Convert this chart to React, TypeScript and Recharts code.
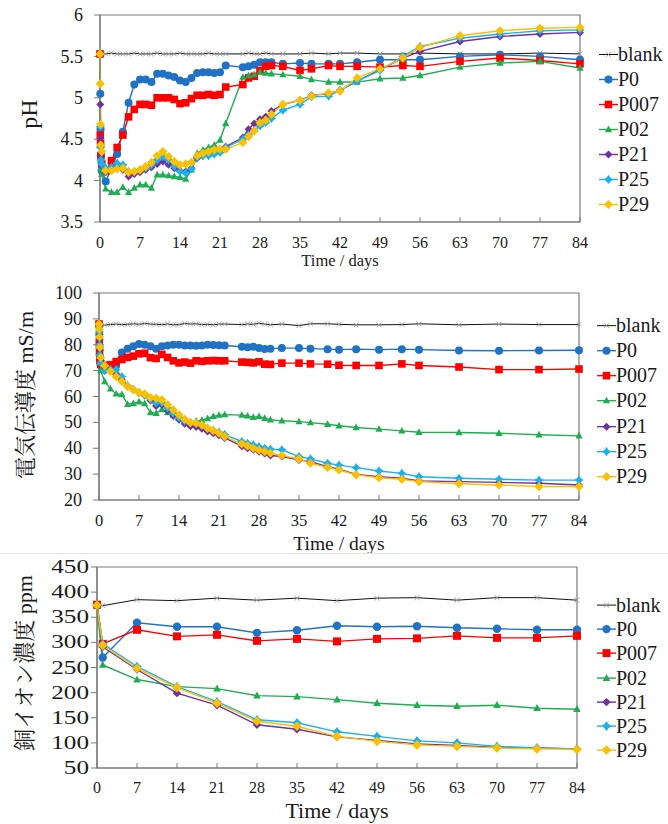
import React from "react";
import { LineChart, Line, XAxis, YAxis, ReferenceArea, Legend } from "recharts";

const AXIS = "#7a7a7a";
const TEXT = "#1a1a1a";
const FONT = '"Liberation Serif", "Tinos", "Times New Roman", "DejaVu Serif", "Noto Serif CJK JP", "Noto Sans CJK JP", serif';

const DAY_TICKS = [0, 7, 14, 21, 28, 35, 42, 49, 56, 63, 70, 77, 84];

// sampling days for pH / conductivity (several readings on day 0)
const days = [
  0, 0.05, 0.1, 0.15, 0.3,
  1, 2, 3, 4, 5, 6, 7, 8, 9, 10, 11, 12, 13, 14, 15, 16, 17, 18, 19, 20, 21, 22,
  25, 26, 27, 28, 29, 30,
  32, 35, 37, 40, 42, 45, 49, 53, 56, 63, 70, 77, 84,
];

const phBlank = [
  5.53, 5.53, 5.53, 5.53, 5.53,
  5.53, 5.54, 5.53, 5.53, 5.53, 5.54, 5.53, 5.53, 5.53, 5.54, 5.53, 5.53, 5.53, 5.54, 5.53, 5.53, 5.53, 5.53, 5.54, 5.53, 5.53, 5.53,
  5.53, 5.54, 5.53, 5.53, 5.54, 5.53,
  5.53, 5.53, 5.54, 5.53, 5.54, 5.54, 5.53, 5.53, 5.54, 5.53, 5.53, 5.54, 5.53,
];
const phP0 = [
  5.53, 5.05, 4.62, 4.3, 4.12,
  3.99, 4.15, 4.32, 4.59, 4.94, 5.16, 5.22, 5.22, 5.19, 5.29, 5.29, 5.27, 5.25, 5.21, 5.19, 5.24, 5.3, 5.31, 5.31, 5.3, 5.31, 5.39,
  5.37, 5.38, 5.4, 5.43, 5.43, 5.43,
  5.41, 5.42, 5.41, 5.41, 5.41, 5.43, 5.46, 5.46, 5.46, 5.5, 5.52, 5.5, 5.46,
];
const phP007 = [
  5.53, 4.55, 4.45, 4.3, 4.2,
  4.12, 4.24, 4.4, 4.55, 4.77, 4.86, 4.92, 4.92, 4.91, 5.0, 5.0, 5.0, 4.98, 4.93, 4.94, 4.99, 5.03, 5.03, 5.04, 5.03, 5.04, 5.13,
  5.16, 5.24, 5.26, 5.33, 5.38, 5.39,
  5.38, 5.33, 5.35, 5.39, 5.38, 5.38, 5.37, 5.39, 5.38, 5.44, 5.48, 5.45, 5.41,
];
const phP02 = [
  5.53, 4.45, 4.25, 4.15, 4.08,
  3.9, 3.86, 3.86, 3.92, 3.86, 3.91, 3.95, 3.95, 3.91, 4.07, 4.07, 4.06, 4.05, 4.04, 4.02, 4.13, 4.33, 4.37, 4.4, 4.43, 4.49, 4.69,
  5.25, 5.27, 5.28, 5.31, 5.3, 5.29,
  5.28, 5.26, 5.22, 5.19, 5.19, 5.19, 5.23, 5.24, 5.27, 5.37, 5.42, 5.44, 5.36,
];
const phP21 = [
  5.53, 4.92, 4.51, 4.3, 4.18,
  4.1, 4.14, 4.16, 4.13, 4.05, 4.08, 4.1, 4.13, 4.16, 4.2, 4.23, 4.19, 4.15, 4.12, 4.11, 4.15, 4.27, 4.3, 4.33, 4.35, 4.37, 4.41,
  4.52, 4.62, 4.69, 4.74, 4.77, 4.84,
  4.92, 4.97, 5.03, 5.05, 5.09, 5.2, 5.34, 5.48, 5.56, 5.68, 5.74, 5.77, 5.79,
];
const phP25 = [
  5.53, 4.65, 4.4, 4.25, 4.2,
  4.15, 4.16, 4.21, 4.19, 4.11, 4.11, 4.13, 4.15, 4.19, 4.25, 4.29, 4.25, 4.17, 4.11, 4.09, 4.14, 4.28, 4.3, 4.3, 4.32, 4.34, 4.4,
  4.5, 4.55, 4.6, 4.66, 4.7, 4.75,
  4.85, 4.92, 5.01, 5.02, 5.09, 5.2, 5.33, 5.5, 5.62, 5.72, 5.77, 5.81, 5.82,
];
const phP29 = [
  5.53, 5.17, 4.68, 4.43, 4.35,
  4.12, 4.12, 4.14, 4.15, 4.1, 4.11, 4.13, 4.17, 4.22, 4.3, 4.35, 4.29, 4.23, 4.19, 4.2, 4.22, 4.3, 4.33, 4.35, 4.37, 4.38, 4.38,
  4.46, 4.53, 4.6, 4.7, 4.73, 4.8,
  4.92, 4.97, 5.02, 5.06, 5.08, 5.24, 5.35, 5.48, 5.61, 5.75, 5.81, 5.84, 5.85,
];

const ecBlank = [
  88.2, 88.0, 88.0, 87.9, 87.8,
  87.6, 87.8, 88.0, 87.8, 87.9, 88.1, 87.9, 88.2, 88.0, 87.9, 87.8, 88.0, 87.7, 87.8, 88.2, 88.0, 88.1, 87.8, 87.9, 87.7, 88.0, 88.0,
  87.8, 88.0, 87.9, 88.3, 88.0, 87.7,
  88.0, 87.4, 88.1, 88.1, 87.9, 87.7, 87.7, 87.8, 88.1, 87.7, 88.0, 87.8, 87.8,
];
const ecP0 = [
  88.0, 84.0, 79.0, 75.0, 72.0,
  70.3, 71.0, 72.0, 77.0, 78.5, 79.4, 80.3, 80.0, 79.4, 78.5, 79.4, 79.7, 80.0, 80.0, 79.7, 79.7, 79.6, 79.7, 80.0, 79.9, 79.8, 79.7,
  79.2, 79.0, 79.2, 78.7, 78.4, 78.5,
  78.7, 78.7, 78.5, 78.3, 78.1, 78.3, 78.1, 78.3, 78.1, 77.8, 77.7, 77.8, 77.9,
];
const ecP007 = [
  88.0, 81.0, 77.0, 74.0, 72.5,
  72.0, 72.3, 73.5, 74.3, 75.1, 75.6, 76.5, 76.7, 75.0, 74.7, 76.3, 75.1, 73.8, 73.0, 73.3, 72.9, 73.8, 73.6, 73.8, 73.9, 73.8, 73.8,
  73.3, 73.2, 73.0, 73.4, 72.5, 72.4,
  72.9, 72.9, 72.6, 72.5, 72.1, 72.0, 72.0, 72.6, 72.0, 71.4, 70.4, 70.4, 70.6,
];
const ecP02 = [
  88.0, 83.0, 77.0, 73.0, 70.0,
  65.8, 63.0, 61.0, 60.8, 57.0, 57.3, 58.0, 57.3, 53.8, 53.5, 55.0, 53.8, 52.8, 51.8, 50.8, 50.3, 50.5, 50.8, 51.5, 52.3, 52.8, 53.0,
  52.8, 52.5, 52.0, 52.3, 51.6, 51.0,
  50.6, 50.3, 49.9, 49.3, 48.7, 48.0, 47.4, 46.7, 46.2, 46.1, 45.8, 45.2, 44.8,
];
const ecP21 = [
  88.0, 86.0, 82.0, 78.0, 74.0,
  72.0, 70.5, 68.5, 66.5, 64.0, 62.6, 61.5, 60.5, 58.5, 56.3, 56.8, 54.5, 52.5, 51.0, 49.5, 48.5, 48.2, 47.5, 46.5, 45.8, 45.0, 44.0,
  40.8, 40.0, 39.4, 38.6, 38.0, 37.2,
  36.8, 35.5, 34.8, 32.9, 31.9, 29.9, 29.0, 28.4, 27.4, 27.1, 26.8, 26.5, 25.8,
];
const ecP25 = [
  87.0, 85.0, 80.0, 76.0, 73.0,
  70.0, 70.5, 70.3, 67.7, 64.2, 62.8, 61.5, 60.5, 59.0, 57.5, 57.6, 55.5, 53.5, 51.8, 50.5, 49.8, 49.5, 48.8, 47.8, 47.0, 46.2, 45.3,
  42.6, 41.9, 41.3, 40.6, 40.0, 39.6,
  39.4, 36.8, 35.9, 34.2, 33.5, 32.5, 31.2, 30.3, 29.0, 28.4, 28.0, 27.7, 27.7,
];
const ecP29 = [
  88.0, 86.0, 83.0, 79.0, 75.0,
  71.9, 69.7, 67.7, 65.8, 63.9, 62.6, 61.5, 61.0, 59.6, 59.3, 58.7, 56.8, 54.8, 52.9, 51.2, 49.9, 49.7, 49.0, 47.7, 46.8, 45.8, 44.5,
  41.7, 40.9, 40.0, 39.3, 38.7, 38.1,
  37.2, 35.9, 34.2, 32.6, 31.6, 29.7, 28.6, 28.0, 27.1, 26.3, 25.8, 25.2, 25.2,
];

// copper ion, weekly
const cuDays = [0, 1, 7, 14, 21, 28, 35, 42, 49, 56, 63, 70, 77, 84];
const cuBlank = [375, 373, 385, 383, 388, 384, 388, 383, 388, 389, 384, 389, 389, 384];
const cuP0 = [374, 270, 339, 331, 331, 319, 324, 333, 331, 332, 329, 327, 325, 325];
const cuP007 = [375, 297, 325, 312, 315, 303, 307, 302, 307, 308, 313, 309, 309, 313];
const cuP02 = [374, 255, 226, 212, 208, 194, 192, 186, 179, 175, 173, 175, 169, 167];
const cuP21 = [374, 291, 246, 199, 175, 136, 127, 112, 105, 98, 95, 91, 90, 88];
const cuP25 = [374, 297, 252, 212, 182, 146, 140, 122, 113, 104, 100, 93, 90, 88];
const cuP29 = [374, 294, 248, 210, 179, 143, 133, 113, 103, 96, 93, 90, 88, 87];

type Shape = "x" | "circle" | "square" | "triangle" | "diamond" | "star";
type Series = { key: string; color: string; shape: Shape; size: number; width: number };

const SERIES: Series[] = [
  { key: "blank", color: "#111111", shape: "x", size: 2.4, width: 1 },
  { key: "P0", color: "#1f72c4", shape: "circle", size: 4, width: 1.4 },
  { key: "P007", color: "#ff0000", shape: "square", size: 3.8, width: 1.4 },
  { key: "P02", color: "#1fad52", shape: "triangle", size: 3.6, width: 1.4 },
  { key: "P21", color: "#7030a0", shape: "diamond", size: 4, width: 1.4 },
  { key: "P25", color: "#19b2ef", shape: "star", size: 4.6, width: 1.4 },
  { key: "P29", color: "#fdc000", shape: "diamond", size: 4.6, width: 1.4 },
];

const buildRows = (t: number[], cols: number[][]) =>
  t.map((d, i) => {
    const row: Record<string, number> = { t: d };
    SERIES.forEach((s, j) => (row[s.key] = cols[j][i]));
    return row;
  });

const phRows = buildRows(days, [phBlank, phP0, phP007, phP02, phP21, phP25, phP29]);
const ecRows = buildRows(days, [ecBlank, ecP0, ecP007, ecP02, ecP21, ecP25, ecP29]);
const cuRows = buildRows(cuDays, [cuBlank, cuP0, cuP007, cuP02, cuP21, cuP25, cuP29]);

function Marker({ shape, color, cx, cy, s }: { shape: Shape; color: string; cx: number; cy: number; s: number }) {
  switch (shape) {
    case "x":
      return (
        <path
          d={`M${cx - s},${cy - s}L${cx + s},${cy + s}M${cx - s},${cy + s}L${cx + s},${cy - s}`}
          stroke="#9c9c9c"
          strokeWidth={0.9}
        />
      );
    case "circle":
      return <circle cx={cx} cy={cy} r={s} fill={color} />;
    case "square":
      return <rect x={cx - s} y={cy - s} width={2 * s} height={2 * s} fill={color} />;
    case "triangle":
      return <polygon points={`${cx},${cy - s * 1.1} ${cx + s},${cy + s * 0.75} ${cx - s},${cy + s * 0.75}`} fill={color} />;
    case "diamond":
      return <polygon points={`${cx},${cy - s} ${cx + s},${cy} ${cx},${cy + s} ${cx - s},${cy}`} fill={color} />;
    case "star": {
      const k = s * 0.42;
      return (
        <polygon
          points={`${cx},${cy - s} ${cx + k},${cy - k} ${cx + s},${cy} ${cx + k},${cy + k} ${cx},${cy + s} ${cx - k},${cy + k} ${cx - s},${cy} ${cx - k},${cy - k}`}
          fill={color}
        />
      );
    }
  }
  return null;
}

const dotFor = (s: Series, k: number) => (p: any) => {
  if (p.cx == null || p.cy == null) return <g key={`${s.key}-${p.index}`} />;
  return <Marker key={`${s.key}-${p.index}`} shape={s.shape} color={s.color} cx={p.cx} cy={p.cy} s={s.size * k} />;
};

// own prop names, recharts clones the label element with its own x / y
function AxisTitle({ at, caption, size, rotate }: { at: [number, number]; caption: string; size: number; rotate?: boolean }) {
  const [ax, ay] = at;
  return (
    <text
      x={ax}
      y={ay}
      dy="0.35em"
      textAnchor="middle"
      fontSize={size}
      fontFamily={FONT}
      fill={TEXT}
      transform={rotate ? `rotate(-90 ${ax} ${ay})` : undefined}
    >
      {caption}
    </text>
  );
}

type PanelProps = {
  top: number;
  height: number;
  plot: { left: number; right: number; top: number; bottom: number };
  data: Record<string, number>[];
  yDomain: [number, number];
  yTicks: number[];
  yTickFont: number;
  yTickRight: number;
  yTickScale: number;
  xTickFont: number;
  xTickGap: number;
  yTitle: string;
  yTitleAt: [number, number];
  yTitleSize: number;
  xTitleAt: [number, number];
  xTitleSize: number;
  legendTop: number;
  legendLeft: number;
  legendStep: number;
  legendFont: number;
  mk: number;
};

function Panel(p: PanelProps) {
  const { plot } = p;
  return (
    <div style={{ position: "absolute", left: 0, top: p.top, width: 668, height: p.height }}>
      <LineChart
        width={668}
        height={p.height}
        data={p.data}
        margin={{ top: plot.top, right: 668 - plot.right, bottom: 0, left: 0 }}
      >
        <XAxis
          type="number"
          dataKey="t"
          domain={[0, 84]}
          ticks={DAY_TICKS}
          interval={0}
          height={p.height - plot.bottom}
          axisLine={{ stroke: AXIS, strokeWidth: 1.2 }}
          tickLine={false}
          tick={(t: any) => (
            <g>
              <line x1={t.x} x2={t.x} y1={plot.bottom} y2={plot.bottom - 5} stroke={AXIS} />
              <text
                x={t.x}
                y={plot.bottom + p.xTickGap}
                dy="0.34em"
                textAnchor="middle"
                fontSize={p.xTickFont}
                fontFamily={FONT}
                fill={TEXT}
              >
                {t.payload.value}
              </text>
            </g>
          )}
          label={<AxisTitle at={p.xTitleAt} caption="Time / days" size={p.xTitleSize} />}
        />
        <YAxis
          type="number"
          domain={p.yDomain}
          ticks={p.yTicks}
          interval={0}
          width={plot.left}
          axisLine={{ stroke: AXIS, strokeWidth: 1.2 }}
          tickLine={{ stroke: AXIS }}
          tickSize={6}
          tick={(t: any) => (
            <text
              x={p.yTickRight}
              y={t.y}
              dy="0.34em"
              textAnchor="end"
              fontSize={p.yTickFont}
              fontFamily={FONT}
              fill={TEXT}
              transform={
                p.yTickScale !== 1
                  ? `translate(${p.yTickRight} 0) scale(${p.yTickScale} 1) translate(${-p.yTickRight} 0)`
                  : undefined
              }
            >
              {t.payload.value}
            </text>
          )}
          label={<AxisTitle at={p.yTitleAt} caption={p.yTitle} size={p.yTitleSize} rotate />}
        />
        <ReferenceArea
          x1={0}
          x2={84}
          y1={p.yDomain[0]}
          y2={p.yDomain[1]}
          fill="none"
          stroke={AXIS}
          strokeWidth={1.2}
          fillOpacity={0}
        />
        {SERIES.map((s) => (
          <Line
            key={s.key}
            type="linear"
            dataKey={s.key}
            stroke={s.color}
            strokeWidth={s.width}
            dot={dotFor(s, p.mk)}
            activeDot={false}
            isAnimationActive={false}
          />
        ))}
        <Legend
          layout="horizontal"
          align="center"
          verticalAlign="middle"
          wrapperStyle={{ left: p.legendLeft, top: p.legendTop, width: 70 }}
          content={() => (
            <div style={{ display: "flex", flexDirection: "column", fontFamily: FONT }}>
              {SERIES.map((s) => (
                <div
                  key={s.key}
                  style={{ height: p.legendStep, display: "flex", alignItems: "center", fontSize: p.legendFont, color: TEXT }}
                >
                  <svg width={19} height={p.legendStep} style={{ flex: "none" }}>
                    <line x1={0} x2={19} y1={p.legendStep / 2} y2={p.legendStep / 2} stroke={s.color} strokeWidth={s.width} />
                    <Marker shape={s.shape} color={s.color} cx={9.5} cy={p.legendStep / 2} s={s.size * p.mk} />
                  </svg>
                  <span style={{ lineHeight: `${p.legendStep}px` }}>{s.key}</span>
                </div>
              ))}
            </div>
          )}
        />
      </LineChart>
    </div>
  );
}

export default function App() {
  return (
    <div
      style={{
        position: "absolute",
        left: 0,
        top: 0,
        width: 668,
        height: 824,
        background: "#ffffff",
        fontFamily: FONT,
        overflow: "hidden",
      }}
    >
      <Panel
        top={0}
        height={272}
        plot={{ left: 100, right: 580, top: 15, bottom: 222 }}
        data={phRows}
        yDomain={[3.5, 6]}
        yTicks={[3.5, 4, 4.5, 5, 5.5, 6]}
        yTickFont={18}
        yTickRight={83}
        yTickScale={1}
        xTickFont={16}
        xTickGap={21}
        yTitle="pH"
        yTitleAt={[29, 114]}
        yTitleSize={24}
        xTitleAt={[340, 260]}
        xTitleSize={16.5}
        legendTop={41.5}
        legendLeft={599}
        legendStep={25}
        legendFont={20}
        mk={1}
      />
      <Panel
        top={272}
        height={281}
        plot={{ left: 99, right: 579, top: 21, bottom: 228 }}
        data={ecRows}
        yDomain={[20, 100]}
        yTicks={[20, 30, 40, 50, 60, 70, 80, 90, 100]}
        yTickFont={18}
        yTickRight={82}
        yTickScale={1}
        xTickFont={16.5}
        xTickGap={20}
        yTitle="電気伝導度 mS/m"
        yTitleAt={[25, 123]}
        yTitleSize={22}
        xTitleAt={[339, 271]}
        xTitleSize={19.5}
        legendTop={40.5}
        legendLeft={597}
        legendStep={25.3}
        legendFont={20}
        mk={1}
      />
      <div style={{ position: "absolute", left: 0, top: 553, width: 668, height: 1, background: "#e4e4e4" }} />
      <Panel
        top={556}
        height={268}
        plot={{ left: 97, right: 577, top: 11, bottom: 212 }}
        data={cuRows}
        yDomain={[50, 450]}
        yTicks={[50, 100, 150, 200, 250, 300, 350, 400, 450]}
        yTickFont={18}
        yTickRight={89}
        yTickScale={1.4}
        xTickFont={16}
        xTickGap={20}
        yTitle="銅イオン濃度 ppm"
        yTitleAt={[24, 107]}
        yTitleSize={22}
        xTitleAt={[337, 254]}
        xTitleSize={22}
        legendTop={37}
        legendLeft={597}
        legendStep={24.2}
        legendFont={20}
        mk={1.05}
      />
    </div>
  );
}
